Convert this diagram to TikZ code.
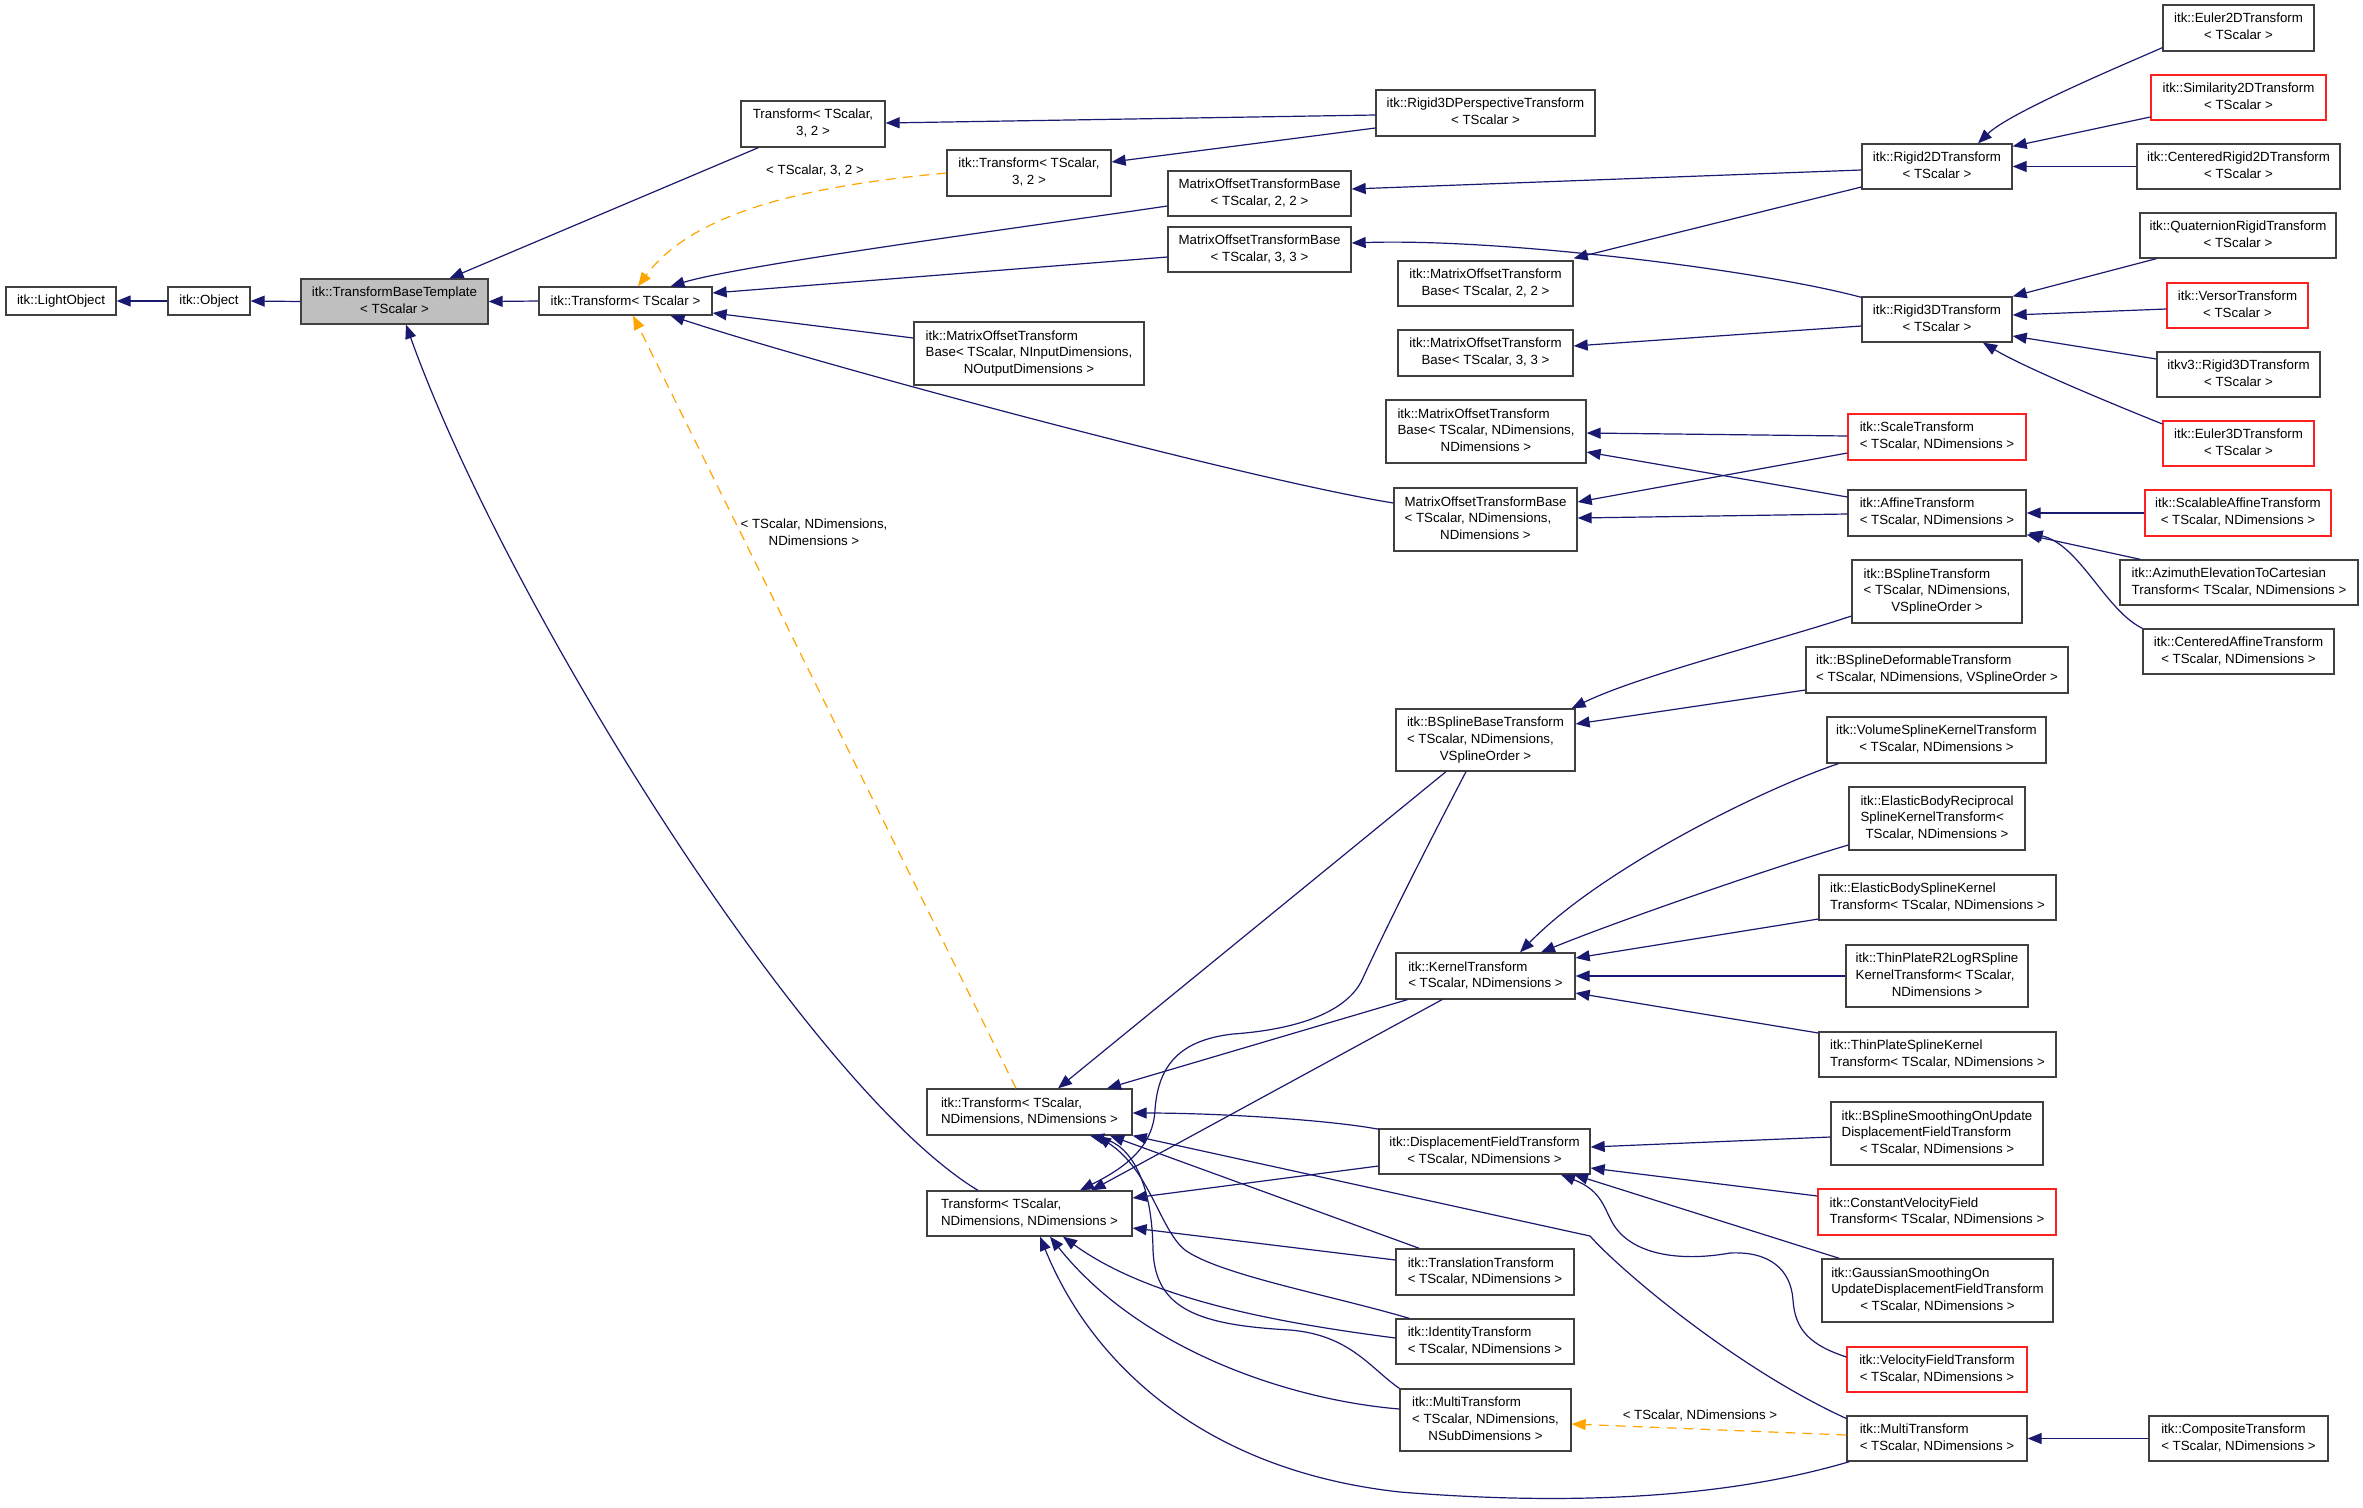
\documentclass[tikz,border=0pt]{standalone}
\usepackage{fontspec}
\setmainfont{Liberation Sans}
\usetikzlibrary{arrows.meta,calc}
\definecolor{navy}{HTML}{191970}
\definecolor{dorange}{HTML}{FFA500}
\definecolor{boxline}{HTML}{404040}
\definecolor{tbtfill}{HTML}{BFBFBF}
\definecolor{redline}{HTML}{FF2020}
\newcommand\LnTwo[2]{\begin{tabular}{@{}l@{}}#1\\\multicolumn{1}{@{}c@{}}{#2}\end{tabular}}
\newcommand\LnThree[3]{\begin{tabular}{@{}l@{}}#1\\#2\\\multicolumn{1}{@{}c@{}}{#3}\end{tabular}}
\tikzset{
 cls/.style={draw=boxline, line width=1.3pt, fill=white, inner sep=0pt, font=\fontsize{13.3}{16.7}\selectfont},
 redcls/.style={cls, draw=redline},
 sz/.style 2 args={minimum width=#1pt, minimum height=#2pt},
 inh/.style={draw=navy, line width=1.2pt, -{Triangle[length=14pt,width=11pt,fill=navy]}},
 tpl/.style={draw=dorange, line width=1.2pt, dash pattern=on 10pt off 7pt, -{Triangle[length=14pt,width=11pt,fill=dorange]}},
 lbl/.style={inner sep=0pt, font=\fontsize{13.3}{16.7}\selectfont, align=center},
}
\begin{document}
\begin{tikzpicture}[x=1pt,y=-1pt]
\fill[white] (0,0) rectangle (2363,1507);
\useasboundingbox (0,0) rectangle (2363,1507);
% nodes
\node[cls,sz={110}{28}] (lo) at (61,301) {itk::LightObject};
\node[cls,sz={82}{28}] (obj) at (209,301) {itk::Object};
\node[cls,sz={187}{45},fill=tbtfill] (tbt) at (394.5,301.5) {\LnTwo{itk::TransformBaseTemplate}{< TScalar >}};
\node[cls,sz={173}{28}] (tr) at (625.5,301) {itk::Transform< TScalar >};
\node[cls,sz={144}{46}] (t32) at (813,124) {\LnTwo{Transform< TScalar,}{3, 2 >}};
\node[cls,sz={164}{46}] (it32) at (1029,173) {\LnTwo{itk::Transform< TScalar,}{3, 2 >}};
\node[cls,sz={183}{45}] (m22) at (1259.5,193.5) {\LnTwo{MatrixOffsetTransformBase}{< TScalar, 2, 2 >}};
\node[cls,sz={183}{45}] (m33) at (1259.5,249.5) {\LnTwo{MatrixOffsetTransformBase}{< TScalar, 3, 3 >}};
\node[cls,sz={230}{63}] (mio) at (1029,353.5) {\LnThree{itk::MatrixOffsetTransform}{Base< TScalar, NInputDimensions,}{NOutputDimensions >}};
\node[cls,sz={219}{46}] (persp) at (1485.5,113) {\LnTwo{itk::Rigid3DPerspectiveTransform}{< TScalar >}};
\node[cls,sz={175}{45}] (im22) at (1485.5,283.5) {\LnTwo{itk::MatrixOffsetTransform}{Base< TScalar, 2, 2 >}};
\node[cls,sz={175}{46}] (im33) at (1485.5,353) {\LnTwo{itk::MatrixOffsetTransform}{Base< TScalar, 3, 3 >}};
\node[cls,sz={200}{63}] (imnn) at (1486,431.5) {\LnThree{itk::MatrixOffsetTransform}{Base< TScalar, NDimensions,}{NDimensions >}};
\node[cls,sz={183}{63}] (mnn) at (1485.5,519.5) {\LnThree{MatrixOffsetTransformBase}{< TScalar, NDimensions,}{NDimensions >}};
\node[cls,sz={151}{46}] (euler2d) at (2238.5,28) {\LnTwo{itk::Euler2DTransform}{< TScalar >}};
\node[redcls,sz={175}{45}] (sim2d) at (2238.5,97.5) {\LnTwo{itk::Similarity2DTransform}{< TScalar >}};
\node[cls,sz={150}{45}] (rigid2d) at (1937,166.5) {\LnTwo{itk::Rigid2DTransform}{< TScalar >}};
\node[cls,sz={203}{45}] (crigid2d) at (2238.5,166.5) {\LnTwo{itk::CenteredRigid2DTransform}{< TScalar >}};
\node[cls,sz={196}{45}] (quat) at (2238,235.5) {\LnTwo{itk::QuaternionRigidTransform}{< TScalar >}};
\node[cls,sz={150}{45}] (rigid3d) at (1937,319.5) {\LnTwo{itk::Rigid3DTransform}{< TScalar >}};
\node[redcls,sz={141}{45}] (versor) at (2237.5,305.5) {\LnTwo{itk::VersorTransform}{< TScalar >}};
\node[cls,sz={163}{45}] (v3rigid) at (2238.5,374.5) {\LnTwo{itkv3::Rigid3DTransform}{< TScalar >}};
\node[redcls,sz={151}{45}] (euler3d) at (2238.5,443.5) {\LnTwo{itk::Euler3DTransform}{< TScalar >}};
\node[redcls,sz={178}{46}] (scale) at (1937,437) {\LnTwo{itk::ScaleTransform}{< TScalar, NDimensions >}};
\node[cls,sz={178}{46}] (affine) at (1937,513) {\LnTwo{itk::AffineTransform}{< TScalar, NDimensions >}};
\node[redcls,sz={186}{46}] (scalaff) at (2238,513) {\LnTwo{itk::ScalableAffineTransform}{< TScalar, NDimensions >}};
\node[cls,sz={238}{45}] (azim) at (2239,582.5) {\LnTwo{itk::AzimuthElevationToCartesian}{Transform< TScalar, NDimensions >}};
\node[cls,sz={191}{45}] (caff) at (2238.5,651.5) {\LnTwo{itk::CenteredAffineTransform}{< TScalar, NDimensions >}};
\node[cls,sz={170}{63}] (bspl) at (1937,591.5) {\LnThree{itk::BSplineTransform}{< TScalar, NDimensions,}{VSplineOrder >}};
\node[cls,sz={262}{46}] (bsdef) at (1937,670) {\LnTwo{itk::BSplineDeformableTransform}{< TScalar, NDimensions, VSplineOrder >}};
\node[cls,sz={179}{62}] (bsbase) at (1485.5,740) {\LnThree{itk::BSplineBaseTransform}{< TScalar, NDimensions,}{VSplineOrder >}};
\node[cls,sz={219}{46}] (vol) at (1936.5,740) {\LnTwo{itk::VolumeSplineKernelTransform}{< TScalar, NDimensions >}};
\node[cls,sz={176}{63}] (ebr) at (1937,818.5) {\LnThree{itk::ElasticBodyReciprocal}{SplineKernelTransform<}{TScalar, NDimensions >}};
\node[cls,sz={237}{45}] (ebs) at (1937.5,897.5) {\LnTwo{itk::ElasticBodySplineKernel}{Transform< TScalar, NDimensions >}};
\node[cls,sz={182}{62}] (tpr2) at (1937,976) {\LnThree{itk::ThinPlateR2LogRSpline}{KernelTransform< TScalar,}{NDimensions >}};
\node[cls,sz={179}{46}] (kernel) at (1485.5,976) {\LnTwo{itk::KernelTransform}{< TScalar, NDimensions >}};
\node[cls,sz={237}{45}] (tps) at (1937.5,1054.5) {\LnTwo{itk::ThinPlateSplineKernel}{Transform< TScalar, NDimensions >}};
\node[cls,sz={205}{46}] (itnn) at (1029.5,1112) {\LnTwo{itk::Transform< TScalar,}{NDimensions, NDimensions >}};
\node[cls,sz={205}{45}] (tnn) at (1029.5,1213.5) {\LnTwo{Transform< TScalar,}{NDimensions, NDimensions >}};
\node[cls,sz={211}{45}] (df) at (1484.5,1151.5) {\LnTwo{itk::DisplacementFieldTransform}{< TScalar, NDimensions >}};
\node[cls,sz={178}{46}] (transl) at (1485,1272) {\LnTwo{itk::TranslationTransform}{< TScalar, NDimensions >}};
\node[cls,sz={178}{45}] (ident) at (1485,1341.5) {\LnTwo{itk::IdentityTransform}{< TScalar, NDimensions >}};
\node[cls,sz={171}{62}] (multins) at (1485.5,1420) {\LnThree{itk::MultiTransform}{< TScalar, NDimensions,}{NSubDimensions >}};
\node[cls,sz={212}{63}] (bsso) at (1937,1133.5) {\LnThree{itk::BSplineSmoothingOnUpdate}{DisplacementFieldTransform}{< TScalar, NDimensions >}};
\node[redcls,sz={238}{46}] (cvf) at (1937,1212) {\LnTwo{itk::ConstantVelocityField}{Transform< TScalar, NDimensions >}};
\node[cls,sz={231}{63}] (gauss) at (1937.5,1290.5) {\LnThree{itk::GaussianSmoothingOn}{UpdateDisplacementFieldTransform}{< TScalar, NDimensions >}};
\node[redcls,sz={180}{45}] (vf) at (1937,1369.5) {\LnTwo{itk::VelocityFieldTransform}{< TScalar, NDimensions >}};
\node[cls,sz={180}{45}] (multi) at (1937,1438.5) {\LnTwo{itk::MultiTransform}{< TScalar, NDimensions >}};
\node[cls,sz={179}{45}] (comp) at (2238.5,1438.5) {\LnTwo{itk::CompositeTransform}{< TScalar, NDimensions >}};
% edges: left part
\draw[inh] (obj.west) -- (lo.east);
\draw[inh] (tbt.west) -- (obj.east);
\draw[inh] (tr.west) -- (tbt.east);
\draw[inh] ($(t32.south west)+(18,0)$) -- ($(tbt.north)+(55,0)$);
\draw[inh] ($(tnn.north)+(-51.5,0)$) .. controls (808,1088) and (506,604) .. ($(tbt.south)+(11.5,0)$);
\draw[tpl] (it32.west) .. controls (817,185) and (695,209) .. ($(tr.north)+(12.5,0)$);
\node[lbl] (l32) at (815,171) {< TScalar, 3, 2 >};
\draw[tpl] ($(itnn.north)+(-13.5,0)$) -- ($(tr.south)+(7.5,0)$);
\node[lbl] (lnn) at (814,532) {< TScalar, NDimensions,\\NDimensions >};
\draw[inh] ($(m22.west)+(0,12.5)$) .. controls (1018,228) and (740,265) .. ($(tr.north)+(45,0)$);
\draw[inh] ($(m33.west)+(0,7.5)$) -- ($(tr.east)+(0,-8)$);
\draw[inh] ($(mio.west)+(0,-15.5)$) -- ($(tr.east)+(0,12)$);
\draw[inh] ($(mnn.west)+(0,-16.5)$) .. controls (1250,480) and (820,365) .. ($(tr.south)+(45,0)$);
\draw[inh] ($(persp.west)+(0,2)$) -- ($(t32.east)+(0,-1)$);
\draw[inh] ($(persp.west)+(0,15)$) -- ($(it32.east)+(0,-11)$);
% rigid family
\draw[inh] ($(rigid2d.west)+(0,3.5)$) -- ($(m22.east)+(0,-4.5)$);
\draw[inh] ($(rigid2d.west)+(0,20.5)$) -- ($(im22.north east)+(0,-2)$);
\draw[inh] ($(rigid3d.north west)+(0,1)$) .. controls (1760,270) and (1500,238) .. ($(m33.east)+(0,-6.5)$);
\draw[inh] ($(rigid3d.west)+(0,6.5)$) -- ($(im33.east)+(0,-7)$);
\draw[inh] ($(euler2d.south west)+(0,-4)$) .. controls (2130,62) and (2010,112) .. ($(rigid2d.north)+(41,0)$);
\draw[inh] ($(sim2d.west)+(0,19.5)$) -- ($(rigid2d.north east)+(0,3)$);
\draw[inh] (crigid2d.west) -- (rigid2d.east);
\draw[inh] ($(quat.south west)+(17,0)$) -- (rigid3d.north east);
\draw[inh] ($(versor.west)+(0,3.5)$) -- ($(rigid3d.east)+(0,-4.5)$);
\draw[inh] ($(v3rigid.west)+(0,-15.5)$) -- ($(rigid3d.east)+(0,16.5)$);
\draw[inh] ($(euler3d.west)+(0,-19.5)$) .. controls (2120,407) and (2025,368) .. ($(rigid3d.south)+(46,0)$);
% affine family
\draw[inh] ($(scale.west)+(0,-1)$) -- ($(imnn.east)+(0,1.5)$);
\draw[inh] ($(scale.west)+(0,16)$) -- ($(mnn.east)+(0,-17.5)$);
\draw[inh] ($(affine.west)+(0,-16)$) -- ($(imnn.east)+(0,20.5)$);
\draw[inh] ($(affine.west)+(0,1)$) -- ($(mnn.east)+(0,-1.5)$);
\draw[inh] (scalaff.west) -- (affine.east);
\draw[inh] ($(azim.north west)+(21,0)$) -- ($(affine.south east)+(0,-2)$);
\draw[inh] (caff.north west) .. controls (2105,610) and (2080,545) .. ($(affine.south east)+(2,-4)$);
% bspline / kernel
\draw[inh] ($(bspl.west)+(0,24.5)$) .. controls (1780,640) and (1640,675) .. ($(bsbase.north east)+(-4,0)$);
\draw[inh] ($(bsdef.west)+(0,20)$) -- ($(bsbase.east)+(0,-16)$);
\draw[inh] ($(vol.south west)+(12,0)$) .. controls (1760,790) and (1600,870) .. ($(kernel.north)+(34.5,0)$);
\draw[inh] ($(ebr.west)+(0,26.5)$) .. controls (1780,865) and (1620,920) .. ($(kernel.north)+(55.5,0)$);
\draw[inh] ($(ebs.west)+(0,21.5)$) -- ($(kernel.east)+(0,-18)$);
\draw[inh] (tpr2.west) -- (kernel.east);
\draw[inh] ($(tps.west)+(0,-21.5)$) -- ($(kernel.east)+(0,17)$);
% to Transform<NDim,NDim>
\draw[inh] ($(bsbase.south)+(-39.5,0)$) -- ($(itnn.north)+(28.5,0)$);
\draw[inh] ($(bsbase.south)+(-19.5,0)$) .. controls (1420,860) and (1385,930) .. (1362,980) .. controls (1345,1015) and (1290,1030) .. (1233,1034) .. controls (1180,1040) and (1158,1065) .. (1155,1110) .. controls (1153,1150) and (1120,1170) .. ($(tnn.north)+(50.5,0)$);
\draw[inh] ($(kernel.south west)+(12,0)$) -- ($(itnn.north)+(77.5,0)$);
\draw[inh] ($(kernel.south)+(-43.5,0)$) -- ($(tnn.north)+(62,0)$);
\draw[inh] ($(df.north west)+(1,1)$) .. controls (1330,1120) and (1220,1113) .. ($(itnn.east)+(0,1)$);
\draw[inh] ($(df.west)+(0,14.5)$) -- ($(tnn.east)+(0,-15.5)$);
\draw[inh] ($(transl.north west)+(24,0)$) -- ($(itnn.south)+(80.5,0)$);
\draw[inh] ($(transl.west)+(0,-12)$) -- ($(tnn.east)+(0,14.5)$);
\draw[inh] ($(ident.north west)+(14,0)$) .. controls (1330,1295) and (1220,1275) .. (1185,1250) .. controls (1160,1230) and (1150,1170) .. ($(itnn.south)+(67.5,0)$);
\draw[inh] ($(ident.west)+(0,-3.5)$) .. controls (1280,1323) and (1150,1300) .. ($(tnn.south)+(33.5,0)$);
\draw[inh] (multins.north west) .. controls (1370,1368) and (1350,1335) .. (1290,1330) .. controls (1200,1325) and (1155,1310) .. (1153,1250) .. controls (1152,1180) and (1130,1145) .. ($(itnn.south)+(60.5,0)$);
\draw[inh] ($(multins.west)+(0,-11)$) .. controls (1290,1400) and (1140,1350) .. ($(tnn.south)+(20.5,0)$);
\draw[inh] ($(multi.south west)+(3,0)$) .. controls (1720,1500) and (1560,1505) .. (1400,1492) .. controls (1200,1470) and (1090,1360) .. ($(tnn.south)+(10.5,0)$);
\draw[inh] ($(multi.west)+(0,-20)$) .. controls (1740,1370) and (1625,1275) .. (1590,1236) -- (itnn.south east);
% displacement field family
\draw[inh] ($(bsso.west)+(0,3.5)$) -- ($(df.east)+(0,-4.5)$);
\draw[inh] ($(cvf.west)+(0,-16)$) -- ($(df.east)+(0,16.5)$);
\draw[inh] ($(gauss.north west)+(18,0)$) -- ($(df.south)+(89.5,0)$);
\draw[inh] ($(vf.west)+(0,-12.5)$) .. controls (1810,1345) and (1795,1330) .. (1793,1300) .. controls (1791,1270) and (1770,1251) .. (1730,1253) .. controls (1680,1262) and (1630,1255) .. (1612,1222) .. controls (1603,1205) and (1600,1190) .. ($(df.south)+(76.5,0)$);
% multi
\draw[tpl] ($(multi.west)+(0,-3.5)$) -- ($(multins.east)+(0,4)$);
\node[lbl] (lmulti) at (1700,1416) {< TScalar, NDimensions >};
\draw[inh] (comp.west) -- (multi.east);
\end{tikzpicture}
\end{document}
